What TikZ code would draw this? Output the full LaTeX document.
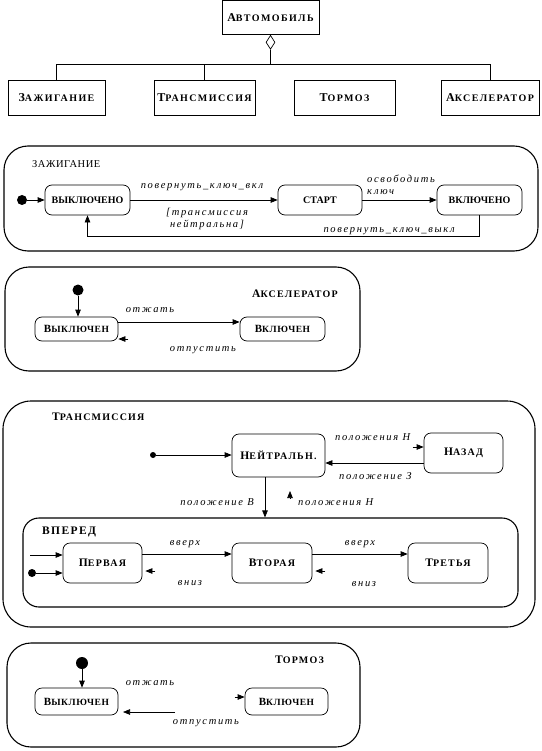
\documentclass[tikz,border=0pt]{standalone}
\usepackage{fontspec}
\setmainfont{Liberation Serif}
\usetikzlibrary{arrows.meta,shapes.geometric}
\newcommand\scx[3][9]{#2{\fontsize{#1}{#1}\selectfont #3}}
\begin{document}
\begin{tikzpicture}[x=1pt,y=-1pt,
  cls/.style={draw,line width=0.9pt,inner sep=0pt,font=\fontsize{12}{14}\selectfont\bfseries\addfontfeatures{LetterSpace=14}},
  st/.style={draw,line width=0.7pt,rounded corners=7pt,inner sep=0pt,font=\fontsize{10}{12}\selectfont\bfseries},
  stt/.style={st,font=\fontsize{11.5}{13}\selectfont\bfseries\addfontfeatures{LetterSpace=12}},
  sta/.style={st,font=\fontsize{11}{13}\selectfont\bfseries\addfontfeatures{LetterSpace=6}},
  cont/.style={draw,line width=1.1pt,rounded corners=24pt,inner sep=0pt},
  arr/.style={line width=0.7pt,-{Triangle[length=7pt,width=5.5pt]}},
  lab/.style={font=\fontsize{10.5}{12}\selectfont\itshape\addfontfeatures{LetterSpace=16},inner sep=1pt},
  ttl/.style={font=\fontsize{11.5}{13}\selectfont\bfseries\addfontfeatures{LetterSpace=12},inner sep=0pt},
  dot/.style={circle,fill,inner sep=0pt,minimum size=#1},
  dot/.default=9pt,
]
\useasboundingbox (0,0) rectangle (541,751);

% ---------- class diagram ----------
\node[cls,minimum width=97pt,minimum height=34pt] (auto) at (270.5,17.5) {\scx[10]{А}{ВТОМОБИЛЬ}};
\node[cls,minimum width=97pt,minimum height=35pt] (zaz) at (56.5,97.5) {\scx[10]{З}{АЖИГАНИЕ}};
\node[cls,minimum width=101pt,minimum height=35pt] (trn) at (204.5,97.5) {\scx[10]{Т}{РАНСМИССИЯ}};
\node[cls,minimum width=101pt,minimum height=35pt] (trm) at (344.5,97.5) {\scx[10]{Т}{ОРМОЗ}};
\node[cls,minimum width=98pt,minimum height=35pt] (acc) at (490,97.5) {\scx[10]{А}{КСЕЛЕРАТОР}};
\node[draw,diamond,line width=0.7pt,aspect=0.6,minimum width=9pt,minimum height=14pt,inner sep=0pt,anchor=north] (dia) at (auto.south) {};
\coordinate (bus) at (0,64);
\draw[line width=0.8pt] (zaz.north) -- (zaz.north|-bus) -- (acc.north|-bus) -- (acc.north);
\draw[line width=0.8pt] (trn.north) -- (trn.north|-bus);
\draw[line width=0.8pt] (dia.south) -- (dia.south|-bus);

% ---------- Ignition ----------
\node[cont,minimum width=534pt,minimum height=105pt] (ign) at (271,198.5) {};
\node[inner sep=0pt,font=\fontsize{10.5}{12}\selectfont\addfontfeatures{LetterSpace=5},anchor=west] (ignl) at (32,164) {ЗАЖИГАНИЕ};
\node[dot=10pt] (d0) at (22,200) {};
\node[st,minimum width=85pt,minimum height=30pt] (voff) at (87.5,200) {ВЫКЛЮЧЕНО};
\node[st,minimum width=84pt,minimum height=30pt] (start) at (320,200) {СТАРТ};
\node[st,minimum width=85pt,minimum height=30pt] (von) at (479.5,200) {ВКЛЮЧЕНО};
\draw[arr] (d0) -- (voff);
\draw[arr] (voff) -- (start);
\draw[arr] (start) -- (von);
\coordinate (ret) at (0,236);
\draw[arr] (von.south) -- (von.south|-ret) -- (voff.south|-ret) -- (voff.south);
\node[lab] (l1) at (202,187) {повернуть\_ключ\_вкл};
\node[lab,align=center] (l2) at (207,219) {[трансмиссия\\нейтральна]};
\node[lab,align=left,anchor=north west] (l3) at (366,174) {освободить\\ключ};
\node[lab,anchor=east] (l4) at (456,231) {повернуть\_ключ\_выкл};

% ---------- Accelerator ----------
\node[cont,minimum width=355pt,minimum height=104pt] (accc) at (182.5,319) {};
\node[ttl,anchor=west] (accl) at (252,294) {\scx[10]{А}{КСЕЛЕРАТОР}};
\node[dot=11pt] (d1) at (78,290) {};
\node[sta,minimum width=83pt,minimum height=24pt] (aoff) at (76.5,329) {\scx[9.5]{В}{ЫКЛЮЧЕН}};
\node[sta,minimum width=85pt,minimum height=24pt] (aon) at (282.5,329) {\scx[9.5]{В}{КЛЮЧЕН}};
\draw[arr] (d1) -- (d1|-aoff.north);
\draw[arr] ([yshift=7pt]aoff.east) -- ([yshift=7pt]aon.west);
\draw[arr] ([xshift=10pt,yshift=-10pt]aoff.east) -- ([yshift=-10pt]aoff.east);
\node[lab] (l5) at (150,310) {отжать};
\node[lab] (l6) at (203,350) {отпустить};

% ---------- Transmission ----------
\node[cont,rounded corners=28pt,minimum width=532pt,minimum height=226pt] (trc) at (269,514) {};
\node[ttl,anchor=west] (trl) at (52,417) {\scx[10]{Т}{РАНСМИССИЯ}};
\node[dot=6pt] (d2) at (153,455) {};
\node[stt,minimum width=93pt,minimum height=43pt] (neu) at (278.5,455.5) {\scx[10]{Н}{ЕЙТРАЛЬН.}};
\node[stt,minimum width=79pt,minimum height=40pt] (back) at (463.5,453) {\scx[10]{Н}{АЗАД}};
\draw[arr] (d2) -- (d2-|neu.west);
\draw[arr] ([yshift=-10pt]back.west) -- ([yshift=-7.5pt]neu.east);
\draw[arr] ([xshift=-11pt,yshift=6pt]back.west) -- ([yshift=6pt]back.west);
\node[lab,anchor=west] (l7) at (334,437) {положения Н};
\node[lab,anchor=west] (l8) at (338,476) {положение З};

\node[cont,rounded corners=16pt,minimum width=495pt,minimum height=89pt] (fwd) at (270.5,562.5) {};
\node[ttl,anchor=west] (fwdl) at (42,532) {ВПЕРЕД};
\coordinate (dn) at (265,0);
\draw[arr] (dn|-neu.south) -- (dn|-fwd.north);
\coordinate (up1) at (290,499);
\draw[arr] (up1) -- ++(0,-8);
\node[lab,anchor=east] (l9) at (255,502) {положение В};
\node[lab,anchor=west] (l10) at (297,502) {положения Н};

\node[stt,minimum width=79pt,minimum height=40pt] (g1) at (102.5,563) {\scx[10]{П}{ЕРВАЯ}};
\node[stt,minimum width=80pt,minimum height=40pt] (g2) at (272,563) {\scx[10]{В}{ТОРАЯ}};
\node[stt,minimum width=80pt,minimum height=40pt] (g3) at (448,563) {\scx[10]{Т}{РЕТЬЯ}};
\draw[arr] ([yshift=9pt]g1.east) -- ([yshift=9pt]g2.west);
\draw[arr] ([yshift=9pt]g2.east) -- ([yshift=9pt]g3.west);
\draw[arr] ([xshift=13pt,yshift=-8pt]g1.east) -- ([xshift=3pt,yshift=-8pt]g1.east);
\draw[arr] ([xshift=13pt,yshift=-8pt]g2.east) -- ([xshift=3pt,yshift=-8pt]g2.east);
\node[lab] (l11) at (185,544) {вверх};
\node[lab] (l12) at (360,544) {вверх};
\node[lab] (l13) at (190,583) {вниз};
\node[lab] (l14) at (364,584) {вниз};
\coordinate (in1) at (30,555);
\draw[arr] (in1) -- (in1-|g1.west);
\node[dot=8pt] (d3) at (32,573) {};
\draw[arr] (d3) -- (d3-|g1.west);

% ---------- Brake ----------
\node[cont,minimum width=353pt,minimum height=104pt] (brc) at (183.5,695) {};
\node[ttl,anchor=west] (brl) at (275,660) {\scx[10]{Т}{ОРМОЗ}};
\node[dot=12pt] (d4) at (82,663) {};
\node[sta,minimum width=83pt,minimum height=27pt] (boff) at (76.5,701.5) {\scx[9.5]{В}{ЫКЛЮЧЕН}};
\node[sta,minimum width=83pt,minimum height=27pt] (bon) at (286.5,701.5) {\scx[9.5]{В}{КЛЮЧЕН}};
\draw[arr] (d4) -- (d4|-boff.north);
\draw[arr] ([xshift=-10pt,yshift=4.5pt]bon.west) -- ([yshift=4.5pt]bon.west);
\coordinate (rt) at (175,712);
\coordinate (rtend) at (123,712);
\draw[arr] (rt) -- (rtend);
\node[lab] (l15) at (150,683) {отжать};
\node[lab] (l16) at (206,723) {отпустить};
\end{tikzpicture}
\end{document}
